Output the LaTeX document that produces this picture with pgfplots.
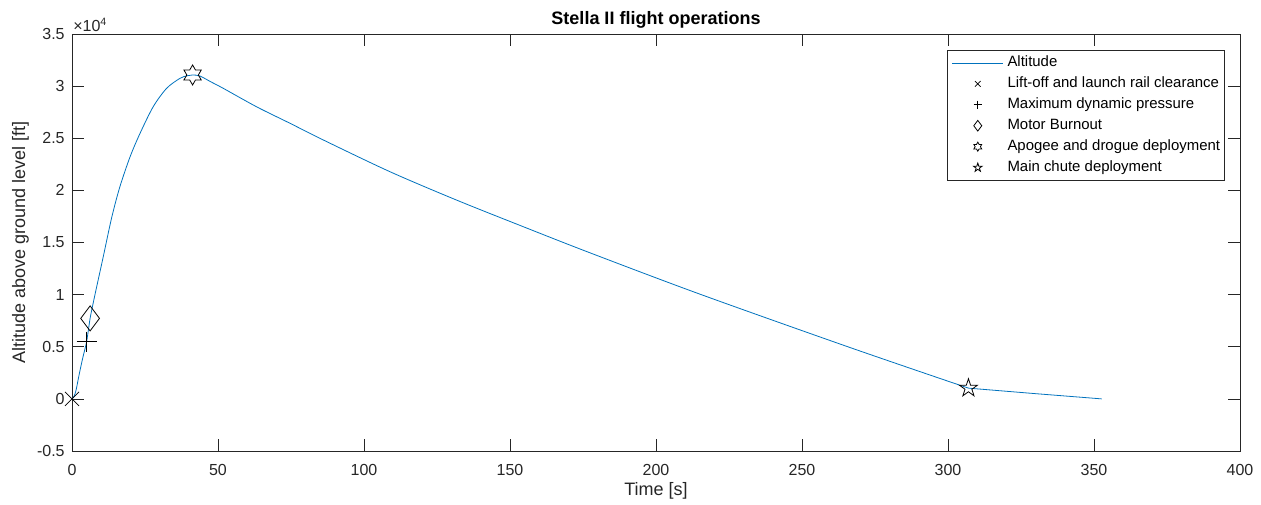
\documentclass[border=0pt]{standalone}
\usepackage{fontspec}
\setmainfont{Liberation Sans}
\usepackage{pgfplots}
\pgfplotsset{compat=1.18}
\definecolor{axcol}{rgb}{0.15,0.15,0.15}
\definecolor{mblue}{rgb}{0,0.447,0.741}

\pgfdeclareplotmark{hexagram}{%
 \pgfpathmoveto{\pgfpointpolar{90}{\pgfplotmarksize}}%
 \pgfpathlineto{\pgfpointpolar{120}{0.57735\pgfplotmarksize}}%
 \pgfpathlineto{\pgfpointpolar{150}{\pgfplotmarksize}}%
 \pgfpathlineto{\pgfpointpolar{180}{0.57735\pgfplotmarksize}}%
 \pgfpathlineto{\pgfpointpolar{210}{\pgfplotmarksize}}%
 \pgfpathlineto{\pgfpointpolar{240}{0.57735\pgfplotmarksize}}%
 \pgfpathlineto{\pgfpointpolar{270}{\pgfplotmarksize}}%
 \pgfpathlineto{\pgfpointpolar{300}{0.57735\pgfplotmarksize}}%
 \pgfpathlineto{\pgfpointpolar{330}{\pgfplotmarksize}}%
 \pgfpathlineto{\pgfpointpolar{0}{0.57735\pgfplotmarksize}}%
 \pgfpathlineto{\pgfpointpolar{30}{\pgfplotmarksize}}%
 \pgfpathlineto{\pgfpointpolar{60}{0.57735\pgfplotmarksize}}%
 \pgfpathclose\pgfusepathqstroke}
\pgfdeclareplotmark{pentagram}{%
 \pgfpathmoveto{\pgfpointpolar{90}{\pgfplotmarksize}}%
 \pgfpathlineto{\pgfpointpolar{126}{0.382\pgfplotmarksize}}%
 \pgfpathlineto{\pgfpointpolar{162}{\pgfplotmarksize}}%
 \pgfpathlineto{\pgfpointpolar{198}{0.382\pgfplotmarksize}}%
 \pgfpathlineto{\pgfpointpolar{234}{\pgfplotmarksize}}%
 \pgfpathlineto{\pgfpointpolar{270}{0.382\pgfplotmarksize}}%
 \pgfpathlineto{\pgfpointpolar{306}{\pgfplotmarksize}}%
 \pgfpathlineto{\pgfpointpolar{342}{0.382\pgfplotmarksize}}%
 \pgfpathlineto{\pgfpointpolar{18}{\pgfplotmarksize}}%
 \pgfpathlineto{\pgfpointpolar{54}{0.382\pgfplotmarksize}}%
 \pgfpathclose\pgfusepathqstroke}

\pgfplotsset{
 markleg/.style={legend image code/.code={\path (0pt,0pt) (38pt,0pt); \draw[##1] plot coordinates {(19pt,0pt)};}},
 lineleg/.style={legend image code/.code={\draw[##1] (0pt,0pt) -- (38pt,0pt);}},
}

\begin{document}
\begin{tikzpicture}
\begin{axis}[
 scale only axis, width=876pt, height=312.75pt,
 xmin=0, xmax=400, ymin=-5000, ymax=35000,
 xtick={0,50,...,400},
 ytick={-5000,0,5000,10000,15000,20000,25000,30000,35000},
 yticklabels={-0.5,0,0.5,1,1.5,2,2.5,3,3.5},
 scaled ticks=false,
 clip=false,
 axis line style={axcol, line width=0.4pt},
 every tick/.style={axcol, line width=0.4pt},
 tick align=inside, major tick length=8.8pt,
 tick label style={font=\fontsize{12}{14}\selectfont, text=axcol},
 /pgf/number format/assume math mode=true,
 xticklabel style={anchor=base, yshift=-18.5pt},
 yticklabel style={anchor=east, xshift=-2pt},
 title={Stella II flight operations},
 title style={font=\fontsize{13.5}{16}\selectfont\bfseries, text=black, at={(axis description cs:0.5,1.0048)}, anchor=base},
 xlabel={Time [s]},
 xlabel style={font=\fontsize{13.5}{16}\selectfont, text=axcol, at={(axis description cs:0.5,-0.1079)}, anchor=base},
 ylabel={Altitude above ground level [ft]},
 ylabel style={font=\fontsize{13.5}{16}\selectfont, text=axcol, at={(axis description cs:-0.0402,0.5)}, anchor=base},
 legend style={
  at={(axis description cs:0.98716,0.96163)}, anchor=north east,
  draw=axcol, line width=0.4pt, fill=white,
  font=\fontsize{11.2}{13}\selectfont, text=black,
  inner xsep=3.5pt, inner ysep=4pt,
  row sep=4.7pt, column sep=3pt,
  cells={anchor=west},
  nodes={inner sep=0pt, text height=8.5pt, text depth=2.5pt},
 },
 legend cell align=left,
]
\addplot[mblue, line width=0.6pt, smooth, tension=0.5, lineleg] coordinates {
(0,0) (0.7,250) (1.4,850) (2.5,2400) (3.7,3950) (5.0,5480) (6.2,7720)
(7.3,9250) (8.45,10750) (10.7,13630) (13.6,17400) (16.4,20350) (19.9,23230)
(23.3,25470) (27.8,28020) (32.4,29790) (37.0,30750) (39.5,31000) (41.3,31070)
(43.8,30970) (47.5,30420) (51.8,29790) (63.2,28020) (74.7,26430) (86.1,24830)
(108.9,21790) (131.7,19070) (154.6,16510) (177.4,14010) (215,10050)
(266.4,4930) (307,1030)
};
\addlegendentry{Altitude}
\addplot[mblue, line width=0.6pt, forget plot] coordinates {(307,1030) (330,500) (352.6,0)};
\addplot[black, only marks, mark=x, mark size=7.4pt, mark options={line width=0.6pt}, markleg, legend image post style={mark size=3pt}] coordinates {(0,0)};
\addlegendentry{Lift-off and launch rail clearance}
\addplot[black, only marks, mark=+, mark size=7.5pt, mark options={line width=0.6pt}, markleg, legend image post style={mark size=3.2pt}] coordinates {(5.0,5480)};
\addlegendentry{Maximum dynamic pressure}
\addplot[black, only marks, mark=diamond, mark size=9.4pt, mark options={line width=0.6pt}, markleg, legend image post style={mark size=4pt}] coordinates {(6.2,7720)};
\addlegendentry{Motor Burnout}
\addplot[black, only marks, mark=hexagram, mark size=7.5pt, mark options={line width=0.6pt}, markleg, legend image post style={mark size=3.4pt}] coordinates {(41.3,31070)};
\addlegendentry{Apogee and drogue deployment}
\addplot[black, only marks, mark=pentagram, mark size=7.1pt, mark options={line width=0.6pt}, markleg, legend image post style={mark size=3.4pt}] coordinates {(307,1030)};
\addlegendentry{Main chute deployment}
\node[anchor=base west, inner sep=0pt, font=\fontsize{12}{14}\selectfont, text=axcol] at ([yshift=1.7pt, xshift=0.8pt]rel axis cs:0,1) {×10\textsuperscript{4}};
\end{axis}
\pgfresetboundingbox
\path[use as bounding box] (-54pt,-39.75pt) rectangle (891.75pt,338.25pt);
\end{tikzpicture}
\end{document}
